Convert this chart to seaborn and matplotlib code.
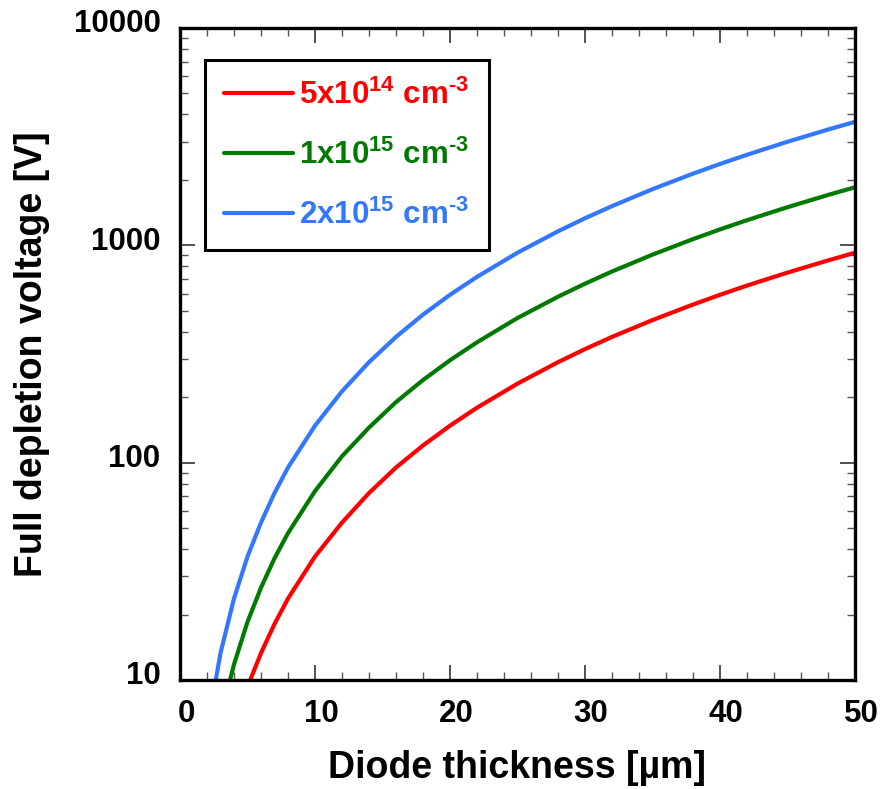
import numpy as np
import pandas as pd
import matplotlib
matplotlib.use("Agg")
import matplotlib.pyplot as plt
import matplotlib.transforms as mtransforms
from matplotlib.ticker import FixedLocator, NullFormatter, MultipleLocator
import seaborn as sns

# ---- data ----
thickness = [2, 3, 4, 5, 6, 7, 8, 10, 12, 14, 16, 18, 20, 22, 25, 28, 30, 32, 35, 38, 40, 42, 45, 48, 50]
v_5e14 = [1.5, 3.3, 5.9, 9.3, 13.3, 18.1, 23.7, 37, 53, 72.5, 95, 120, 148, 179, 231, 290, 333, 379, 453, 534, 592, 653, 749, 852, 925]
v_1e15 = [3.0, 6.7, 11.8, 18.5, 26.6, 36.3, 47.4, 74, 107, 145, 190, 240, 296, 358, 463, 580, 666, 758, 906, 1068, 1184, 1305, 1498, 1705, 1850]
v_2e15 = [5.9, 13.3, 23.7, 37, 53, 72.5, 95, 148, 213, 290, 379, 480, 592, 716, 925, 1160, 1332, 1515, 1813, 2137, 2368, 2610, 2997, 3410, 3700]
series_labels = [r"5x10$^{14}$ cm$^{\text{-3}}$", r"1x10$^{15}$ cm$^{\text{-3}}$", r"2x10$^{15}$ cm$^{\text{-3}}$"]
colors = ["#FF0000", "#007A00", "#3377FF"]
x_ticks = [0, 10, 20, 30, 40, 50]
y_ticks = [10, 100, 1000, 10000]
y_tick_labels = ["10", "100", "1000", "10000"]

df = pd.concat([
    pd.DataFrame({"x": thickness, "v": vals, "series": lab})
    for vals, lab in zip([v_5e14, v_1e15, v_2e15], series_labels)
])

sns.set_style("ticks")
plt.rcParams["font.family"] = ["Liberation Sans", "DejaVu Sans"]
plt.rcParams["font.weight"] = "bold"
plt.rcParams["text.color"] = "black"
plt.rcParams["axes.labelcolor"] = "black"
plt.rcParams["xtick.color"] = "black"
plt.rcParams["ytick.color"] = "black"
plt.rcParams["mathtext.fontset"] = "custom"
plt.rcParams["mathtext.rm"] = "Liberation Sans:bold"
plt.rcParams["mathtext.it"] = "Liberation Sans:bold"
plt.rcParams["mathtext.bf"] = "Liberation Sans:bold"
plt.rcParams["mathtext.default"] = "bf"

fig = plt.figure(figsize=(8.81, 7.89), dpi=100)
ax = fig.add_axes([180/881, 1-680/789, 675/881, 652/789])

sns.lineplot(data=df, x="x", y="v", hue="series", hue_order=series_labels,
             palette=colors, linewidth=3.0, ax=ax, sort=False, estimator=None)

ax.set_yscale("log")
ax.set_xlim(0, 50)
ax.set_ylim(10, 10000)

ax.xaxis.set_major_locator(FixedLocator(x_ticks))
ax.xaxis.set_minor_locator(MultipleLocator(2))
ax.yaxis.set_major_locator(FixedLocator(y_ticks))
ax.set_yticklabels(y_tick_labels)
ax.yaxis.set_minor_locator(matplotlib.ticker.LogLocator(base=10, subs=np.arange(2, 10)))
ax.yaxis.set_minor_formatter(NullFormatter())

ax.tick_params(which="both", direction="in", top=True, right=True, labelsize=22.5,
               pad=14, labelcolor="black")
ax.tick_params(which="major", length=11, width=1.2, color="#333333")
ax.tick_params(which="minor", length=6, width=1.0, color="#555555")
for lab in ax.get_xticklabels() + ax.get_yticklabels():
    lab.set_fontweight("bold")

# small offsets like the reference
dx = mtransforms.ScaledTranslation(6/100, 0, fig.dpi_scale_trans)
for lab in ax.get_xticklabels():
    lab.set_transform(lab.get_transform() + dx)
dy = mtransforms.ScaledTranslation(0, 7/100, fig.dpi_scale_trans)
for lab in ax.get_yticklabels():
    lab.set_transform(lab.get_transform() + dy)

for s in ax.spines.values():
    s.set_linewidth(2.4)
    s.set_color("black")

ax.set_xlabel("Diode thickness [µm]", fontsize=27, fontweight="bold", labelpad=15, color="black")
ax.set_ylabel("Full depletion voltage [V]", fontsize=27, fontweight="bold", labelpad=17, color="black")

leg = ax.legend(loc="upper left", bbox_to_anchor=(0.037, 0.951), borderaxespad=0,
                fontsize=22.5, handlelength=2.2, labelspacing=0.92, frameon=True,
                fancybox=False, framealpha=1, edgecolor="black", labelcolor="linecolor",
                borderpad=0.62, handletextpad=0.2)
leg.get_frame().set_linewidth(2.2)
for t in leg.get_texts():
    t.set_fontweight("bold")

fig.savefig("out.png", dpi=100)
